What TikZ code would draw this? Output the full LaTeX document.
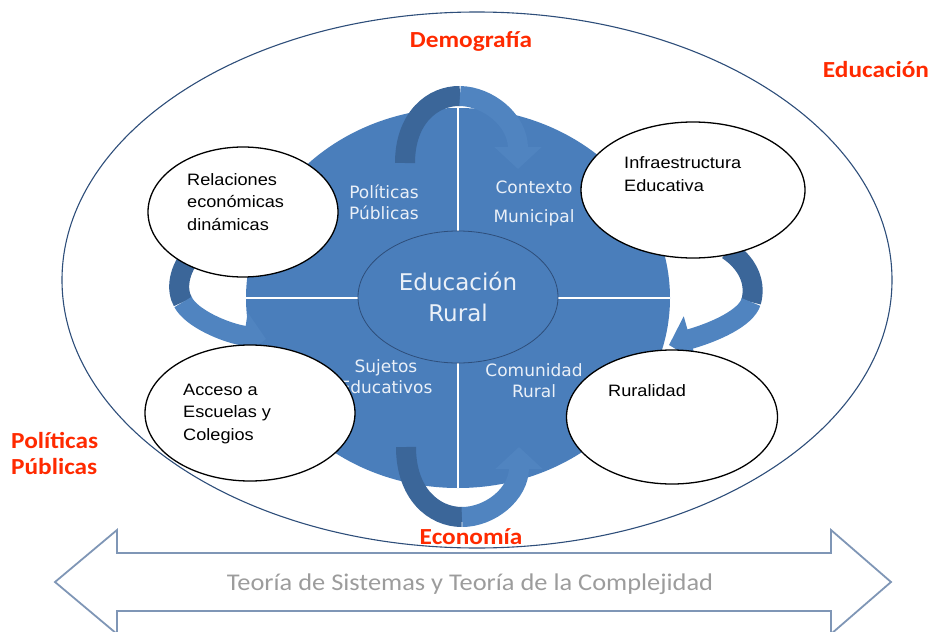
\documentclass[tikz,border=0pt]{standalone}
\usepackage{fontspec}
\setmainfont{Carlito}
\newfontfamily\redfont[FakeStretch=1.1]{Carlito}
\newfontfamily\dvs{DejaVu Sans}
\newfontfamily\libfont[FakeStretch=1.1]{Liberation Sans}
\usetikzlibrary{shapes.geometric,arrows.meta}
\definecolor{circblue}{HTML}{4A7EBB}
\definecolor{arrlight}{HTML}{5084C0}
\definecolor{arrdark}{HTML}{3B6699}
\definecolor{outerline}{HTML}{2E4E7A}
\definecolor{redlab}{HTML}{FF2A00}
\definecolor{bigarrow}{HTML}{7F96B6}
\definecolor{qtext}{HTML}{EAF0F8}
\definecolor{graytext}{HTML}{9C9C9C}
\tikzset{
  band/.style={line width=20pt, line cap=butt},
  bandtip/.style={band, -{Triangle[length=22pt,width=46pt]}},
  whiteell/.style={ellipse, draw=black, line width=1.3pt, fill=white, inner sep=0pt},
  elltext/.style={anchor=west, align=left, font=\libfont\fontsize{16.5}{22.5}\selectfont, text=black, inner sep=0pt},
  qlabel/.style={align=center, font=\dvs\fontsize{17}{21}\selectfont, text=qtext, inner sep=0pt},
  redlabel/.style={font=\redfont\bfseries\fontsize{23}{26}\selectfont, text=redlab, inner sep=0pt},
}
\begin{document}
\begin{tikzpicture}[x=1pt,y=-1pt]
\useasboundingbox (0,0) rectangle (932,632);
% outer ellipse
\node[ellipse, draw=outerline, line width=1.1pt, minimum width=830pt, minimum height=536pt, inner sep=0pt] (outer) at (477,280) {};
% blue circle
\node[ellipse, fill=circblue, minimum width=424pt, minimum height=380pt, inner sep=0pt] (circ) at (458,298) {};
\draw[white, line width=1.4pt] (circ.north) -- (circ.south);
\draw[white, line width=1.4pt] (circ.west) -- (circ.east);
% inner ellipse
\node[ellipse, draw=outerline, line width=0.8pt, fill=circblue, minimum width=200pt, minimum height=132pt, inner sep=0pt,
      align=center, font=\dvs\fontsize{23}{31}\selectfont, text=qtext] (core) at (458,297) {Educación\\Rural};
% quadrant labels
\node[qlabel] (q1) at (384,202) {Políticas\\Públicas};
\node[qlabel, font=\dvs\fontsize{17}{29}\selectfont] (q2) at (534,203) {Contexto\\Municipal};
\node[qlabel] (q3) at (386,377) {Sujetos\\Educativos};
\node[qlabel] (q4) at (534,381) {Comunidad\\Rural};
% curved arrows
\coordinate (ta0) at (405,163); \coordinate (ta1) at (460,96); \coordinate (ta2) at (518,169);
\draw[band, arrdark] (ta0) .. controls (405,118) and (432.5,95.5) .. (ta1);
\draw[bandtip, arrlight] (ta1) .. controls (488,96.5) and (518,120) .. (ta2);
\coordinate (la0) at (194,252); \coordinate (la1) at (183,302); \coordinate (la2) at (266,339);
\draw[band, arrdark] (la0) .. controls (178,270) and (176,290) .. (la1);
\draw[bandtip, arrlight] (la1) .. controls (191,318) and (225,333) .. (la2);
\coordinate (ra0) at (728,250); \coordinate (ra1) at (751,302); \coordinate (ra2) at (669,345);
\draw[band, arrdark] (ra0) .. controls (750,265) and (756,285) .. (ra1);
\draw[bandtip, arrlight] (ra1) .. controls (746,318) and (715,332) .. (ra2);
\coordinate (ba0) at (406,447); \coordinate (ba1) at (462,517); \coordinate (ba2) at (519,447);
\draw[band, arrdark] (ba0) .. controls (406,494) and (434,517) .. (ba1);
\draw[bandtip, arrlight] (ba1) .. controls (490,517) and (519,494) .. (ba2);
% white ellipses
\node[whiteell, minimum width=190pt, minimum height=130pt] (e1) at (243,212) {};
\node[whiteell, minimum width=224pt, minimum height=136pt] (e2) at (693,190) {};
\node[whiteell, minimum width=210pt, minimum height=136pt] (e3) at (250,413) {};
\node[whiteell, minimum width=211pt, minimum height=134pt] (e4) at (672,417) {};
\node[elltext] (t1) at (187,202) {Relaciones\\económicas\\dinámicas};
\node[elltext] (t2) at (624,174) {Infraestructura\\Educativa};
\node[elltext] (t3) at (183,414) {Acceso a\\Escuelas y\\Colegios};
\node[elltext] (t4) at (608,391) {Ruralidad};
% red labels
\node[redlabel] (demo) at (471,41) {Demografía};
\node[redlabel] (educ) at (876,70) {Educación};
\node[redlabel, anchor=west, align=left] (polp) at (11,453) {Políticas\\Públicas};
\node[redlabel] (econ) at (471,537) {Economía};
% bottom double arrow
\draw[bigarrow, line width=1.8pt, line join=miter] (55,582) -- (117,530) -- (117,553) -- (831,553) -- (831,530) -- (891,582) -- (831,634) -- (831,611) -- (117,611) -- (117,634) -- cycle;
\node[font=\redfont\fontsize{24}{26}\selectfont, text=graytext] (theory) at (470,584) {Teoría de Sistemas y Teoría de la Complejidad};
\end{tikzpicture}
\end{document}
